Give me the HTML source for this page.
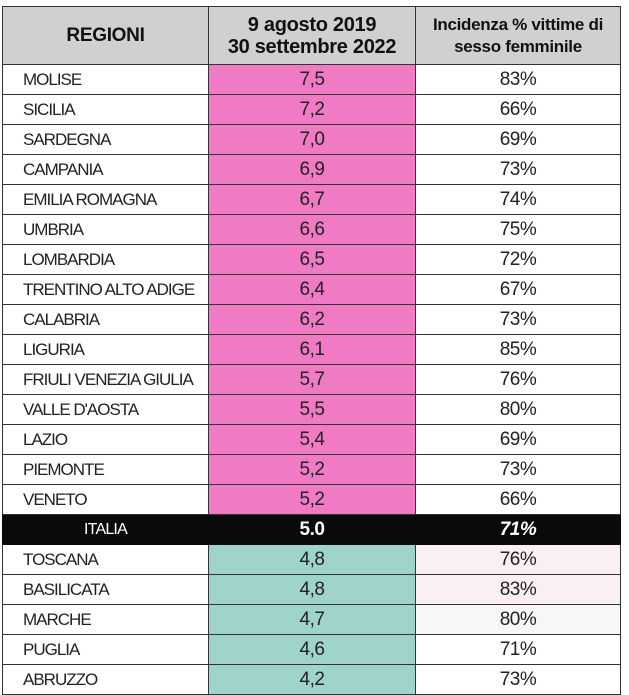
<!DOCTYPE html>
<html><head><style>
body{margin:0;background:#fff;width:629px;height:693px;overflow:hidden;font-family:"Liberation Sans",sans-serif;}
.t{position:absolute;left:2px;top:6px;width:618px;border-collapse:collapse;table-layout:fixed;}
tr{height:30px;}
tr.h{height:58px;}
td{border:1.5px solid #333;padding:0;font-size:19px;color:#222;text-align:center;letter-spacing:-0.5px;}
td.a{text-align:left;padding-left:20px;font-size:17px;letter-spacing:-1px;}
th{background:#d0d0ce;border:1.5px solid #333;font-size:17px;font-weight:bold;color:#111;line-height:22px;padding:0;letter-spacing:-0.3px;}
.p{background:#f07ac4;}
.g{background:#9ed4cc;}
.i td{background:#0a0a0a;color:#fff;border-color:#0a0a0a;}
.lp{background:#f9eff5;}
.lg{background:#f7f7f7;}
</style></head><body>
<table class="t">
<colgroup><col style="width:206px"><col style="width:207px"><col style="width:205px"></colgroup>
<tr class="h"><th style="font-size:19px">REGIONI</th><th style="font-size:20px">9 agosto 2019<br>30 settembre 2022</th><th style="font-size:17px">Incidenza % vittime di<br>sesso femminile</th></tr>
<tr><td class="a">MOLISE</td><td class="p">7,5</td><td>83%</td></tr>
<tr><td class="a">SICILIA</td><td class="p">7,2</td><td>66%</td></tr>
<tr><td class="a">SARDEGNA</td><td class="p">7,0</td><td>69%</td></tr>
<tr><td class="a">CAMPANIA</td><td class="p">6,9</td><td>73%</td></tr>
<tr><td class="a">EMILIA ROMAGNA</td><td class="p">6,7</td><td>74%</td></tr>
<tr><td class="a">UMBRIA</td><td class="p">6,6</td><td>75%</td></tr>
<tr><td class="a">LOMBARDIA</td><td class="p">6,5</td><td>72%</td></tr>
<tr><td class="a">TRENTINO ALTO ADIGE</td><td class="p">6,4</td><td>67%</td></tr>
<tr><td class="a">CALABRIA</td><td class="p">6,2</td><td>73%</td></tr>
<tr><td class="a">LIGURIA</td><td class="p">6,1</td><td>85%</td></tr>
<tr><td class="a">FRIULI VENEZIA GIULIA</td><td class="p">5,7</td><td>76%</td></tr>
<tr><td class="a">VALLE D'AOSTA</td><td class="p">5,5</td><td>80%</td></tr>
<tr><td class="a">LAZIO</td><td class="p">5,4</td><td>69%</td></tr>
<tr><td class="a">PIEMONTE</td><td class="p">5,2</td><td>73%</td></tr>
<tr><td class="a">VENETO</td><td class="p">5,2</td><td>66%</td></tr>
<tr class="i"><td style="font-size:16px;letter-spacing:-0.8px">ITALIA</td><td style="font-weight:bold">5.0</td><td style="font-weight:bold;font-style:italic">71%</td></tr>
<tr><td class="a">TOSCANA</td><td class="g">4,8</td><td class="lp">76%</td></tr>
<tr><td class="a">BASILICATA</td><td class="g">4,8</td><td class="lp">83%</td></tr>
<tr><td class="a">MARCHE</td><td class="g">4,7</td><td class="lg">80%</td></tr>
<tr><td class="a">PUGLIA</td><td class="g">4,6</td><td>71%</td></tr>
<tr><td class="a">ABRUZZO</td><td class="g">4,2</td><td>73%</td></tr>
</table>
</body></html>
